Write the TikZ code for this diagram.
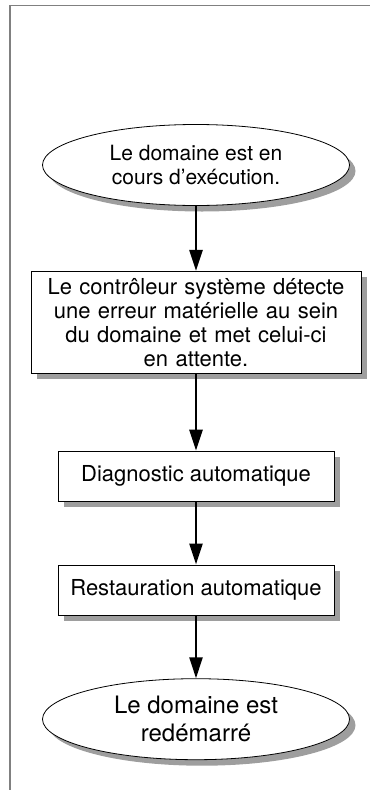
\documentclass[tikz,border=0pt]{standalone}
\usepackage{fontspec}
\setmainfont{TeX Gyre Heros}
\usetikzlibrary{positioning,shapes.geometric,shadows,arrows.meta}

\begin{document}
\begin{tikzpicture}[
		x=1pt,y=1pt,
		node distance=65pt,
		every node/.style={font=\fontsize{21}{24}\selectfont},
		boxshadow/.style={drop shadow={shadow xshift=6pt,shadow yshift=-6pt,fill=black!38,opacity=1}},
		endnode/.style={draw,ellipse,line width=0.8pt,fill=white,boxshadow,inner sep=0pt,minimum width=307pt,minimum height=81pt,align=center},
		stepbox/.style={draw,rectangle,line width=0.8pt,fill=white,boxshadow,inner sep=0pt,minimum width=276pt,minimum height=50pt,align=center,font=\fontsize{22}{24}\selectfont},
		flow/.style={-{Triangle[length=21pt,width=13pt]},line width=2.5pt}
		]
		\useasboundingbox (0,0) rectangle (370,-790);
		% frame
		\draw[gray,line width=1.5pt] (10,-790) -- (10,-5.5) -- (370,-5.5);
		\node[endnode] (running) at (196,-165) {Le domaine est en\\cours d’exécution.};
		\node[stepbox,text width=320pt,inner xsep=5pt,minimum height=102pt,below=65pt of running] (detect)
		{Le contrôleur système détecte\\une erreur matérielle au sein\\du domaine et met celui-ci\\en attente.};
		\node[stepbox,below=77pt of detect] (diag) {Diagnostic automatique};
		\node[stepbox,below=63pt of diag] (restore) {Restauration automatique};
		\node[endnode,below=63pt of restore,font=\fontsize{24}{28}\selectfont] (rebooted) {Le domaine est\\redémarré};
		\path [flow]
		(running) edge (detect)
		(detect) edge (diag)
		(diag) edge (restore)
		(restore) edge (rebooted);
	\end{tikzpicture}
\end{document}
